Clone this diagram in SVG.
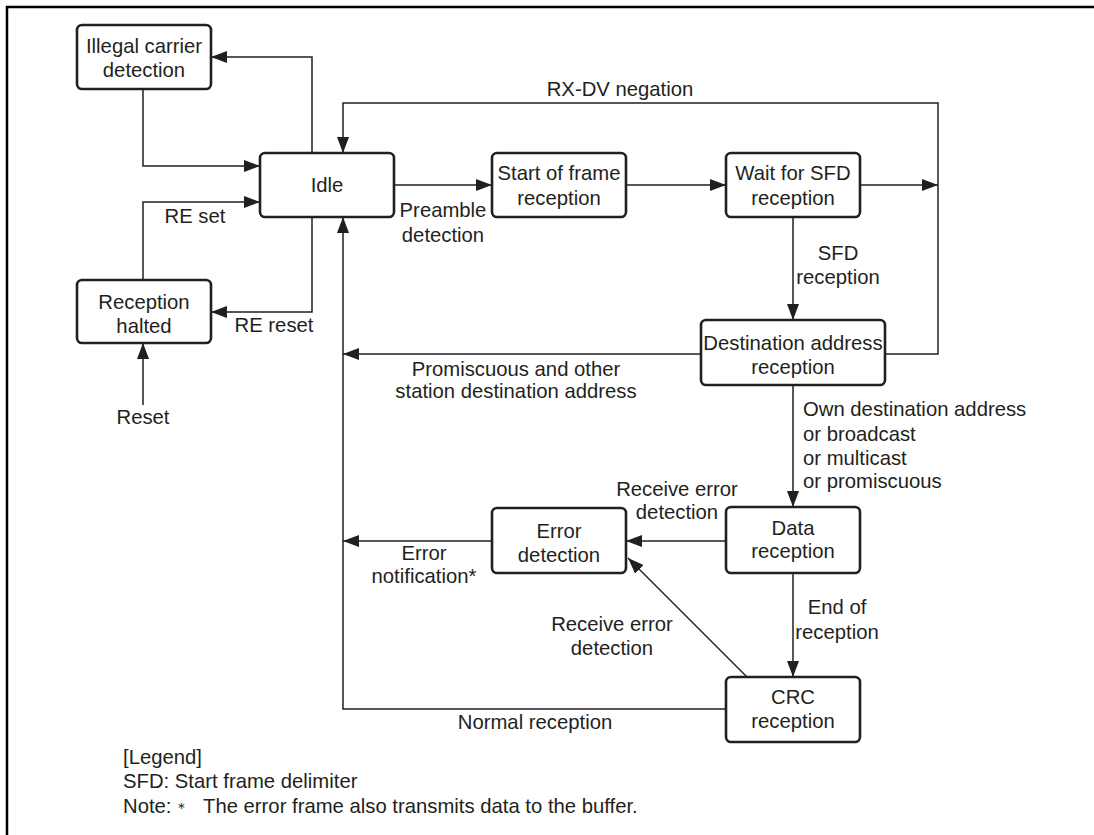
<svg xmlns="http://www.w3.org/2000/svg" width="1094" height="835" viewBox="0 0 1094 835">
<defs>
<style>
.box{fill:#fff;stroke:#231f20;stroke-width:2.6}
.c{fill:none;stroke:#231f20;stroke-width:1.5}
.a{marker-end:url(#ah)}
text{font-family:"Liberation Sans",Arial,Helvetica,sans-serif;font-size:20.3px;fill:#231f20}
.m{text-anchor:middle}
</style>
<marker id="ah" viewBox="0 0 16 12" refX="16" refY="6" markerUnits="userSpaceOnUse" markerWidth="16" markerHeight="12" orient="auto">
<path d="M0,0 L16,6 L0,12 z" fill="#231f20"/>
</marker>
</defs>
<rect width="1094" height="835" fill="#fff"/>
<path d="M7,835 V7 H1094" fill="none" stroke="#000" stroke-width="2.5"/>

<g id="connectors">
<path class="c a" d="M312,153 V57 H211"/>
<path class="c a" d="M143,89 V166 H260"/>
<path class="c a" d="M143,280 V202 H260"/>
<path class="c a" d="M312,217 V312 H211"/>
<path class="c a" d="M143,405 V343"/>
<path class="c a" d="M394,185 H492"/>
<path class="c a" d="M626,185 H726"/>
<path class="c a" d="M860,185 H938"/>
<path class="c a" d="M885,354 H938 V103 H343 V153"/>
<path class="c a" d="M793,217 V320"/>
<path class="c a" d="M701,354 H343"/>
<path class="c a" d="M793,385 V507"/>
<path class="c a" d="M726,541 H626"/>
<path class="c a" d="M492,541 H343"/>
<path class="c a" d="M793,573 V677"/>
<path class="c a" d="M747,677 L628,558"/>
<path class="c a" d="M726,709 H343 V217"/>
<text class="m" x="620" y="96">RX-DV negation</text>
<text class="m" x="195" y="223">RE set</text>
<text class="m" x="274" y="332">RE reset</text>
<text class="m" x="143" y="424">Reset</text>
<text class="m" x="443" y="217">Preamble</text>
<text class="m" x="443" y="242">detection</text>
<text class="m" x="838" y="260">SFD</text>
<text class="m" x="838" y="284">reception</text>
<text class="m" x="516" y="376">Promiscuous and other</text>
<text class="m" x="516" y="398">station destination address</text>
<text x="803" y="416">Own destination address</text>
<text x="803" y="441">or broadcast</text>
<text x="803" y="465">or multicast</text>
<text x="803" y="488">or promiscuous</text>
<text class="m" x="677" y="496">Receive error</text>
<text class="m" x="677" y="519">detection</text>
<text class="m" x="424" y="560">Error</text>
<text class="m" x="424" y="583">notification*</text>
<text class="m" x="837" y="614">End of</text>
<text class="m" x="837" y="639">reception</text>
<text class="m" x="612" y="631">Receive error</text>
<text class="m" x="612" y="655">detection</text>
<text class="m" x="535" y="729">Normal reception</text>
</g>

<g id="illegal">
<rect class="box" x="77" y="25" width="134" height="64" rx="5"/>
<text class="m" x="144" y="53">Illegal carrier</text>
<text class="m" x="144" y="77">detection</text>
</g>
<g id="idle">
<rect class="box" x="260" y="153" width="134" height="64" rx="5"/>
<text class="m" x="327" y="192">Idle</text>
</g>
<g id="halted">
<rect class="box" x="77" y="280" width="134" height="63" rx="5"/>
<text class="m" x="144" y="309">Reception</text>
<text class="m" x="144" y="333">halted</text>
</g>
<g id="start">
<rect class="box" x="492" y="153" width="134" height="64" rx="5"/>
<text class="m" x="559" y="180">Start of frame</text>
<text class="m" x="559" y="205">reception</text>
</g>
<g id="waitsfd">
<rect class="box" x="726" y="153" width="134" height="64" rx="5"/>
<text class="m" x="793" y="180">Wait for SFD</text>
<text class="m" x="793" y="205">reception</text>
</g>
<g id="dest">
<rect class="box" x="701" y="320" width="184" height="65" rx="5"/>
<text class="m" x="793" y="350">Destination address</text>
<text class="m" x="793" y="374">reception</text>
</g>
<g id="data">
<rect class="box" x="726" y="507" width="134" height="66" rx="5"/>
<text class="m" x="793" y="535">Data</text>
<text class="m" x="793" y="558">reception</text>
</g>
<g id="error">
<rect class="box" x="492" y="508" width="134" height="65" rx="5"/>
<text class="m" x="559" y="538">Error</text>
<text class="m" x="559" y="562">detection</text>
</g>
<g id="crc">
<rect class="box" x="726" y="677" width="134" height="65" rx="5"/>
<text class="m" x="793" y="704">CRC</text>
<text class="m" x="793" y="728">reception</text>
</g>

<g id="legend">
<text x="123" y="764">[Legend]</text>
<text x="123" y="788">SFD: Start frame delimiter</text>
<text x="123" y="813">Note:<tspan x="174" font-size="15">＊</tspan><tspan x="203">The error frame also transmits data to the buffer.</tspan></text>
</g>
</svg>
